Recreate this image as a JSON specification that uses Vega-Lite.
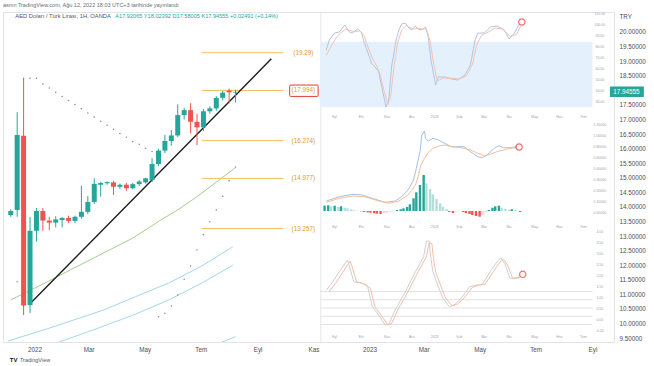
{
"$schema": "https://vega.github.io/schema/vega-lite/v6.json",
"width": 611, "height": 330, "autosize": "none",
"padding": {"left": 3, "top": 12, "right": 40, "bottom": 24},
"background": "#ffffff",
"title": {"text": "asmn TradingView.com, Ağu 12, 2022 18:03 UTC+3 tarihinde yayınlandı", "anchor": "start", "frame": "group", "fontSize": 5.5, "fontWeight": "normal", "color": "#6a6d78", "offset": 3, "font": "Liberation Sans"},
"config": {
  "font": "Liberation Sans",
  "view": {"stroke": "#e0e3eb", "strokeWidth": 1},
  "axis": {"grid": false, "ticks": false, "domain": false, "labelFontSize": 6.3, "labelColor": "#4b4e58", "labelFont": "Liberation Sans"}
},
"datasets": {
  "candles": [
    {"d":"2021-12-06","o":13.72,"h":13.92,"l":13.66,"c":13.86},
    {"d":"2021-12-13","o":13.89,"h":17.25,"l":13.66,"c":16.47},
    {"d":"2021-12-20","o":16.44,"h":18.41,"l":10.29,"c":10.62},
    {"d":"2021-12-27","o":10.63,"h":13.66,"l":10.36,"c":13.18},
    {"d":"2022-01-03","o":13.18,"h":13.96,"l":12.81,"c":13.86},
    {"d":"2022-01-10","o":13.86,"h":13.96,"l":13.18,"c":13.53},
    {"d":"2022-01-17","o":13.53,"h":13.66,"l":13.2,"c":13.46},
    {"d":"2022-01-24","o":13.46,"h":13.68,"l":13.3,"c":13.57},
    {"d":"2022-01-31","o":13.55,"h":13.65,"l":13.3,"c":13.62},
    {"d":"2022-02-07","o":13.62,"h":13.7,"l":13.45,"c":13.52},
    {"d":"2022-02-14","o":13.52,"h":13.7,"l":13.45,"c":13.66},
    {"d":"2022-02-21","o":13.66,"h":14.72,"l":13.6,"c":13.83},
    {"d":"2022-02-28","o":13.83,"h":14.37,"l":13.75,"c":14.17},
    {"d":"2022-03-07","o":14.17,"h":14.98,"l":14.1,"c":14.79},
    {"d":"2022-03-14","o":14.76,"h":14.86,"l":14.35,"c":14.82},
    {"d":"2022-03-21","o":14.81,"h":14.87,"l":14.76,"c":14.85},
    {"d":"2022-03-28","o":14.84,"h":14.9,"l":14.41,"c":14.69},
    {"d":"2022-04-04","o":14.69,"h":14.8,"l":14.62,"c":14.76},
    {"d":"2022-04-11","o":14.76,"h":14.82,"l":14.55,"c":14.64},
    {"d":"2022-04-18","o":14.64,"h":14.82,"l":14.6,"c":14.78},
    {"d":"2022-04-25","o":14.78,"h":14.92,"l":14.72,"c":14.87},
    {"d":"2022-05-02","o":14.84,"h":15.0,"l":14.8,"c":14.98},
    {"d":"2022-05-09","o":14.92,"h":15.67,"l":14.85,"c":15.47},
    {"d":"2022-05-16","o":15.47,"h":15.99,"l":15.4,"c":15.93},
    {"d":"2022-05-23","o":15.93,"h":16.47,"l":15.85,"c":16.26},
    {"d":"2022-05-30","o":16.26,"h":16.64,"l":16.1,"c":16.45},
    {"d":"2022-06-06","o":16.45,"h":17.52,"l":16.4,"c":17.15},
    {"d":"2022-06-13","o":17.15,"h":17.4,"l":17.0,"c":17.32},
    {"d":"2022-06-20","o":17.32,"h":17.56,"l":16.52,"c":16.92},
    {"d":"2022-06-27","o":16.92,"h":17.2,"l":16.12,"c":16.73},
    {"d":"2022-07-04","o":16.73,"h":17.35,"l":16.6,"c":17.28},
    {"d":"2022-07-11","o":17.28,"h":17.45,"l":17.2,"c":17.38},
    {"d":"2022-07-18","o":17.38,"h":17.8,"l":17.3,"c":17.74},
    {"d":"2022-07-25","o":17.74,"h":17.98,"l":17.65,"c":17.92},
    {"d":"2022-08-01","o":17.99,"h":18.06,"l":17.55,"c":17.93},
    {"d":"2022-08-08","o":17.92065,"h":18.02392,"l":17.58005,"c":17.94555}
  ],
  "sar": [
    {"d":"2021-12-13","v":11.43},{"d":"2021-12-20","v":18.41},{"d":"2021-12-27","v":18.41},{"d":"2022-01-03","v":18.41},
    {"d":"2022-01-10","v":18.22},{"d":"2022-01-17","v":18.08},{"d":"2022-01-24","v":17.93},{"d":"2022-01-31","v":17.79},
    {"d":"2022-02-07","v":17.65},{"d":"2022-02-14","v":17.51},{"d":"2022-02-21","v":17.37},{"d":"2022-02-28","v":17.22},
    {"d":"2022-03-07","v":17.08},{"d":"2022-03-14","v":16.94},{"d":"2022-03-21","v":16.8},{"d":"2022-03-28","v":16.66},
    {"d":"2022-04-04","v":16.52},{"d":"2022-04-11","v":16.39},{"d":"2022-04-18","v":16.24},{"d":"2022-04-25","v":16.15},
    {"d":"2022-05-02","v":16.01},{"d":"2022-05-09","v":15.9},
    {"d":"2022-05-16","v":10.23},{"d":"2022-05-23","v":10.35},{"d":"2022-05-30","v":10.6},{"d":"2022-06-06","v":10.98},
    {"d":"2022-06-13","v":11.52},{"d":"2022-06-20","v":11.97},{"d":"2022-06-27","v":12.52},{"d":"2022-07-04","v":13.05},
    {"d":"2022-07-11","v":13.49},{"d":"2022-07-18","v":13.89},{"d":"2022-07-25","v":14.36},{"d":"2022-08-01","v":14.9},
    {"d":"2022-08-08","v":15.37}
  ],
  "ma": [
    {"d":"2021-12-06","v":10.81,"s":"g"},{"d":"2022-01-10","v":11.35,"s":"g"},{"d":"2022-02-14","v":11.92,"s":"g"},
    {"d":"2022-03-21","v":12.48,"s":"g"},{"d":"2022-04-18","v":12.93,"s":"g"},{"d":"2022-05-16","v":13.5,"s":"g"},
    {"d":"2022-06-06","v":13.9,"s":"g"},{"d":"2022-06-27","v":14.35,"s":"g"},{"d":"2022-07-18","v":14.85,"s":"g"},
    {"d":"2022-08-08","v":15.35,"s":"g"},
    {"d":"2021-12-03","v":9.4,"s":"c1"},{"d":"2022-01-15","v":9.82,"s":"c1"},{"d":"2022-03-17","v":10.46,"s":"c1"},
    {"d":"2022-04-21","v":10.92,"s":"c1"},{"d":"2022-05-28","v":11.4,"s":"c1"},{"d":"2022-07-02","v":11.97,"s":"c1"},
    {"d":"2022-08-05","v":12.63,"s":"c1"},
    {"d":"2022-01-22","v":9.3,"s":"c2"},{"d":"2022-03-06","v":9.78,"s":"c2"},{"d":"2022-04-21","v":10.32,"s":"c2"},
    {"d":"2022-05-28","v":10.82,"s":"c2"},{"d":"2022-07-02","v":11.38,"s":"c2"},{"d":"2022-08-05","v":12.0,"s":"c2"},
    {"d":"2022-07-18","v":9.28,"s":"c3"},{"d":"2022-08-08","v":9.55,"s":"c3"}
  ],
  "trend": [{"d":"2021-12-28","v":10.71},{"d":"2022-09-16","v":19.08}],
  "levels": [
    {"d":"2022-07-02","d2":"2022-09-29","v":19.29,"t":"(19.29)"},
    {"d":"2022-07-02","d2":"2022-09-29","v":17.994,"t":"(17.994)"},
    {"d":"2022-07-02","d2":"2022-09-29","v":16.274,"t":"(16.274)"},
    {"d":"2022-07-02","d2":"2022-09-29","v":14.977,"t":"(14.977)"},
    {"d":"2022-07-02","d2":"2022-09-29","v":13.257,"t":"(13.257)"}
  ],
  "box": [{"d":"2022-10-06","d2":"2022-11-06","v":17.79,"v2":18.18}],
  "ptag": [{"d":"2023-09-20","d2":"2023-10-27","v":17.77,"v2":18.13}],
  "ptagText": [{"d":"2023-10-08","v":17.94555,"t":"17.94555"}],
  "hdr": [{"d":"2021-12-11","v":20.55,"t":"AED Doları / Türk Lirası, 1H, OANDA"}],
  "hdr2": [{"d":"2022-03-30","v":20.55,"t":"A17.92065 Y18.02392 D17.58005 K17.94555 +0.02491 (+0.14%)"}],
  "foot": [{"d":"2021-12-05","v":8.75,"t":"TV"}],
  "foot2": [{"d":"2021-12-16","v":8.75,"t":"TradingView"}],
  "border": [{"d":"2022-11-09","v":9.365,"v2":20.686}],
  "tiny": [
    {"d":"2022-11-24","v":17.084,"t":"Eyl"},{"d":"2022-12-23","v":17.084,"t":"Eki"},{"d":"2023-01-20","v":17.084,"t":"Kas"},
    {"d":"2023-02-16","v":17.084,"t":"Ara"},{"d":"2023-03-13","v":17.084,"t":"2023"},{"d":"2023-04-09","v":17.084,"t":"Şub"},
    {"d":"2023-05-06","v":17.084,"t":"Mar"},{"d":"2023-06-02","v":17.084,"t":"Nis"},{"d":"2023-06-30","v":17.084,"t":"May"},
    {"d":"2023-07-27","v":17.084,"t":"Haz"},{"d":"2023-08-22","v":17.084,"t":"Tem"},
    {"d":"2022-11-24","v":13.311,"t":"Eyl"},{"d":"2022-12-23","v":13.311,"t":"Eki"},{"d":"2023-01-20","v":13.311,"t":"Kas"},
    {"d":"2023-02-16","v":13.311,"t":"Ara"},{"d":"2023-03-13","v":13.311,"t":"2023"},{"d":"2023-04-09","v":13.311,"t":"Şub"},
    {"d":"2023-05-06","v":13.311,"t":"Mar"},{"d":"2023-06-02","v":13.311,"t":"Nis"},{"d":"2023-06-30","v":13.311,"t":"May"},
    {"d":"2023-07-27","v":13.311,"t":"Haz"},{"d":"2023-08-22","v":13.311,"t":"Tem"},
    {"d":"2022-11-24","v":9.537,"t":"Eyl"},{"d":"2022-12-23","v":9.537,"t":"Eki"},{"d":"2023-01-20","v":9.537,"t":"Kas"},
    {"d":"2023-02-16","v":9.537,"t":"Ara"},{"d":"2023-03-13","v":9.537,"t":"2023"},{"d":"2023-04-09","v":9.537,"t":"Şub"},
    {"d":"2023-05-06","v":9.537,"t":"Mar"},{"d":"2023-06-02","v":9.537,"t":"Nis"},{"d":"2023-06-30","v":9.537,"t":"May"},
    {"d":"2023-07-27","v":9.537,"t":"Haz"},{"d":"2023-08-22","v":9.537,"t":"Tem"},
    {"d":"2023-09-09","v":20.617,"t":"110.00"},{"d":"2023-09-09","v":20.24,"t":"100.00"},{"d":"2023-09-09","v":19.863,"t":"90.00"},
    {"d":"2023-09-09","v":19.485,"t":"80.00"},{"d":"2023-09-09","v":19.108,"t":"70.00"},{"d":"2023-09-09","v":18.731,"t":"60.00"},
    {"d":"2023-09-09","v":18.353,"t":"50.00"},{"d":"2023-09-09","v":17.976,"t":"40.00"},{"d":"2023-09-09","v":17.599,"t":"30.00"},
    {"d":"2023-09-09","v":16.81,"t":"1.20000"},{"d":"2023-09-09","v":16.432,"t":"1.00000"},{"d":"2023-09-09","v":16.055,"t":"0.80000"},
    {"d":"2023-09-09","v":15.678,"t":"0.60000"},{"d":"2023-09-09","v":15.3,"t":"0.40000"},{"d":"2023-09-09","v":14.923,"t":"0.30000"},
    {"d":"2023-09-09","v":14.545,"t":"0.20000"},{"d":"2023-09-09","v":14.168,"t":"0.10000"},{"d":"2023-09-09","v":13.791,"t":"0.00000"},
    {"d":"2023-09-09","v":13.139,"t":"4.00"},{"d":"2023-09-09","v":12.762,"t":"3.50"},{"d":"2023-09-09","v":12.384,"t":"3.00"},
    {"d":"2023-09-09","v":12.007,"t":"2.50"},{"d":"2023-09-09","v":11.63,"t":"2.00"},{"d":"2023-09-09","v":11.252,"t":"1.50"},
    {"d":"2023-09-09","v":10.875,"t":"1.00"},{"d":"2023-09-09","v":10.497,"t":"0.50"},{"d":"2023-09-09","v":10.12,"t":"0.00"},
    {"d":"2023-09-09","v":9.743,"t":"-0.50"}
  ],
  "bandA": [{"d":"2022-11-08","d2":"2023-09-01","v":3,"v2":75}],
  "stoch": [
    {"d":"2022-11-15","v":65.9,"s":"k"},{"d":"2022-11-18","v":76.9,"s":"k"},{"d":"2022-11-24","v":84.6,"s":"k"},
    {"d":"2022-11-29","v":85.7,"s":"k"},{"d":"2022-12-05","v":93.4,"s":"k"},{"d":"2022-12-10","v":85.7,"s":"k"},
    {"d":"2022-12-13","v":84.6,"s":"k"},{"d":"2022-12-19","v":89.0,"s":"k"},{"d":"2022-12-23","v":85.7,"s":"k"},
    {"d":"2022-12-26","v":74.7,"s":"k"},{"d":"2023-01-01","v":58.2,"s":"k"},{"d":"2023-01-03","v":51.6,"s":"k"},
    {"d":"2023-01-08","v":46.2,"s":"k"},{"d":"2023-01-11","v":41.8,"s":"k"},{"d":"2023-01-15","v":22.0,"s":"k"},
    {"d":"2023-01-19","v":3.3,"s":"k"},{"d":"2023-01-22","v":11.0,"s":"k"},{"d":"2023-01-25","v":47.3,"s":"k"},
    {"d":"2023-01-30","v":76.9,"s":"k"},{"d":"2023-02-02","v":87.9,"s":"k"},{"d":"2023-02-05","v":94.5,"s":"k"},
    {"d":"2023-02-09","v":95.6,"s":"k"},{"d":"2023-02-13","v":90.1,"s":"k"},{"d":"2023-02-16","v":87.9,"s":"k"},
    {"d":"2023-02-20","v":92.3,"s":"k"},{"d":"2023-02-23","v":89.0,"s":"k"},{"d":"2023-02-27","v":87.9,"s":"k"},
    {"d":"2023-03-03","v":91.2,"s":"k"},{"d":"2023-03-06","v":80.2,"s":"k"},{"d":"2023-03-09","v":54.9,"s":"k"},
    {"d":"2023-03-14","v":27.5,"s":"k"},{"d":"2023-03-17","v":36.3,"s":"k"},{"d":"2023-03-25","v":36.3,"s":"k"},
    {"d":"2023-03-31","v":34.1,"s":"k"},{"d":"2023-04-07","v":33.0,"s":"k"},{"d":"2023-04-15","v":38.5,"s":"k"},
    {"d":"2023-04-21","v":49.5,"s":"k"},{"d":"2023-04-26","v":76.9,"s":"k"},{"d":"2023-04-29","v":84.6,"s":"k"},
    {"d":"2023-05-06","v":84.6,"s":"k"},{"d":"2023-05-13","v":91.2,"s":"k"},{"d":"2023-05-20","v":92.3,"s":"k"},
    {"d":"2023-05-28","v":87.9,"s":"k"},{"d":"2023-06-02","v":78.0,"s":"k"},{"d":"2023-06-08","v":84.6,"s":"k"},
    {"d":"2023-06-13","v":94.5,"s":"k"},
    {"d":"2022-11-15","v":60,"s":"dd"},{"d":"2022-11-20","v":70,"s":"dd"},{"d":"2022-11-26","v":80,"s":"dd"},
    {"d":"2022-12-01","v":85,"s":"dd"},{"d":"2022-12-06","v":89,"s":"dd"},{"d":"2022-12-12","v":87,"s":"dd"},
    {"d":"2022-12-17","v":86,"s":"dd"},{"d":"2022-12-21","v":87,"s":"dd"},{"d":"2022-12-26","v":82,"s":"dd"},
    {"d":"2022-12-30","v":70,"s":"dd"},{"d":"2023-01-04","v":57,"s":"dd"},{"d":"2023-01-09","v":48,"s":"dd"},
    {"d":"2023-01-13","v":38,"s":"dd"},{"d":"2023-01-17","v":20,"s":"dd"},{"d":"2023-01-21","v":6,"s":"dd"},
    {"d":"2023-01-24","v":15,"s":"dd"},{"d":"2023-01-28","v":50,"s":"dd"},{"d":"2023-02-01","v":75,"s":"dd"},
    {"d":"2023-02-05","v":88,"s":"dd"},{"d":"2023-02-10","v":93,"s":"dd"},{"d":"2023-02-15","v":90,"s":"dd"},
    {"d":"2023-02-19","v":89,"s":"dd"},{"d":"2023-02-23","v":90,"s":"dd"},{"d":"2023-02-28","v":89,"s":"dd"},
    {"d":"2023-03-04","v":89,"s":"dd"},{"d":"2023-03-08","v":76,"s":"dd"},{"d":"2023-03-12","v":50,"s":"dd"},
    {"d":"2023-03-16","v":32,"s":"dd"},{"d":"2023-03-22","v":35,"s":"dd"},{"d":"2023-03-31","v":35,"s":"dd"},
    {"d":"2023-04-09","v":34,"s":"dd"},{"d":"2023-04-17","v":38,"s":"dd"},{"d":"2023-04-23","v":50,"s":"dd"},
    {"d":"2023-04-28","v":72,"s":"dd"},{"d":"2023-05-03","v":82,"s":"dd"},{"d":"2023-05-11","v":86,"s":"dd"},
    {"d":"2023-05-18","v":90,"s":"dd"},{"d":"2023-05-26","v":89,"s":"dd"},{"d":"2023-06-03","v":81,"s":"dd"},
    {"d":"2023-06-10","v":83,"s":"dd"},{"d":"2023-06-15","v":92,"s":"dd"}
  ],
  "circA": [{"d":"2023-06-16","v":96.7}],
  "macd": [
    {"d":"2022-11-15","v":0.10,"s":"macd"},{"d":"2022-11-29","v":0.143,"s":"macd"},{"d":"2022-12-14","v":0.167,"s":"macd"},
    {"d":"2022-12-24","v":0.16,"s":"macd"},{"d":"2023-01-04","v":0.127,"s":"macd"},{"d":"2023-01-18","v":0.087,"s":"macd"},
    {"d":"2023-01-29","v":0.10,"s":"macd"},{"d":"2023-02-05","v":0.143,"s":"macd"},{"d":"2023-02-12","v":0.21,"s":"macd"},
    {"d":"2023-02-18","v":0.31,"s":"macd"},{"d":"2023-02-21","v":0.427,"s":"macd"},{"d":"2023-02-25","v":0.593,"s":"macd"},
    {"d":"2023-02-27","v":0.76,"s":"macd"},{"d":"2023-03-02","v":0.80,"s":"macd"},{"d":"2023-03-03","v":0.727,"s":"macd"},
    {"d":"2023-03-06","v":0.70,"s":"macd"},{"d":"2023-03-11","v":0.727,"s":"macd"},{"d":"2023-03-17","v":0.71,"s":"macd"},
    {"d":"2023-03-24","v":0.677,"s":"macd"},{"d":"2023-03-31","v":0.643,"s":"macd"},{"d":"2023-04-07","v":0.643,"s":"macd"},
    {"d":"2023-04-14","v":0.643,"s":"macd"},{"d":"2023-04-21","v":0.593,"s":"macd"},{"d":"2023-04-29","v":0.543,"s":"macd"},
    {"d":"2023-05-04","v":0.533,"s":"macd"},{"d":"2023-05-09","v":0.56,"s":"macd"},{"d":"2023-05-17","v":0.627,"s":"macd"},
    {"d":"2023-05-22","v":0.653,"s":"macd"},{"d":"2023-05-27","v":0.633,"s":"macd"},{"d":"2023-06-03","v":0.633,"s":"macd"},
    {"d":"2023-06-11","v":0.643,"s":"macd"},
    {"d":"2022-11-15","v":0.087,"s":"sig"},{"d":"2022-11-29","v":0.127,"s":"sig"},{"d":"2022-12-14","v":0.15,"s":"sig"},
    {"d":"2022-12-28","v":0.14,"s":"sig"},{"d":"2023-01-11","v":0.10,"s":"sig"},{"d":"2023-01-22","v":0.077,"s":"sig"},
    {"d":"2023-02-02","v":0.10,"s":"sig"},{"d":"2023-02-12","v":0.16,"s":"sig"},{"d":"2023-02-20","v":0.26,"s":"sig"},
    {"d":"2023-02-23","v":0.343,"s":"sig"},{"d":"2023-02-26","v":0.46,"s":"sig"},{"d":"2023-03-02","v":0.527,"s":"sig"},
    {"d":"2023-03-06","v":0.587,"s":"sig"},{"d":"2023-03-11","v":0.627,"s":"sig"},{"d":"2023-03-19","v":0.653,"s":"sig"},
    {"d":"2023-03-24","v":0.66,"s":"sig"},{"d":"2023-03-31","v":0.643,"s":"sig"},{"d":"2023-04-11","v":0.633,"s":"sig"},
    {"d":"2023-04-21","v":0.61,"s":"sig"},{"d":"2023-04-29","v":0.577,"s":"sig"},{"d":"2023-05-06","v":0.553,"s":"sig"},
    {"d":"2023-05-13","v":0.567,"s":"sig"},{"d":"2023-05-20","v":0.593,"s":"sig"},{"d":"2023-05-27","v":0.61,"s":"sig"},
    {"d":"2023-06-03","v":0.627,"s":"sig"},{"d":"2023-06-11","v":0.633,"s":"sig"}
  ],
  "hist": [
    {"d":"2022-11-13","v":0.053,"s":"up"},{"d":"2022-11-17","v":0.057,"s":"up"},{"d":"2022-11-20","v":0.047,"s":"upf"},
    {"d":"2022-11-24","v":0.053,"s":"up"},{"d":"2022-11-28","v":0.04,"s":"upf"},{"d":"2022-12-01","v":0.047,"s":"up"},
    {"d":"2022-12-05","v":0.033,"s":"upf"},{"d":"2022-12-08","v":0.027,"s":"upf"},{"d":"2022-12-12","v":0.017,"s":"upf"},
    {"d":"2022-12-15","v":0.007,"s":"upf"},{"d":"2022-12-19","v":0.003,"s":"upf"},{"d":"2022-12-23","v":-0.003,"s":"dn"},
    {"d":"2022-12-26","v":-0.01,"s":"dn"},{"d":"2022-12-30","v":-0.013,"s":"dn"},{"d":"2023-01-02","v":-0.017,"s":"dn"},
    {"d":"2023-01-06","v":-0.023,"s":"dn"},{"d":"2023-01-09","v":-0.027,"s":"dn"},{"d":"2023-01-13","v":-0.03,"s":"dn"},
    {"d":"2023-01-17","v":-0.023,"s":"dnf"},{"d":"2023-01-20","v":-0.017,"s":"dnf"},{"d":"2023-01-24","v":-0.01,"s":"dnf"},
    {"d":"2023-01-27","v":-0.003,"s":"dnf"},{"d":"2023-01-31","v":0.01,"s":"up"},{"d":"2023-02-04","v":0.017,"s":"up"},
    {"d":"2023-02-07","v":0.027,"s":"up"},{"d":"2023-02-11","v":0.04,"s":"up"},{"d":"2023-02-14","v":0.067,"s":"up"},
    {"d":"2023-02-18","v":0.127,"s":"up"},{"d":"2023-02-21","v":0.187,"s":"up"},{"d":"2023-02-25","v":0.26,"s":"up"},
    {"d":"2023-03-01","v":0.36,"s":"up"},{"d":"2023-03-04","v":0.277,"s":"upf"},{"d":"2023-03-08","v":0.22,"s":"upf"},
    {"d":"2023-03-11","v":0.167,"s":"upf"},{"d":"2023-03-15","v":0.12,"s":"upf"},{"d":"2023-03-19","v":0.077,"s":"upf"},
    {"d":"2023-03-22","v":0.043,"s":"upf"},{"d":"2023-03-26","v":0.02,"s":"upf"},{"d":"2023-03-29","v":-0.01,"s":"dn"},
    {"d":"2023-04-02","v":-0.02,"s":"dn"},{"d":"2023-04-05","v":-0.005,"s":"dnf"},{"d":"2023-04-13","v":-0.01,"s":"dn"},
    {"d":"2023-04-16","v":-0.02,"s":"dn"},{"d":"2023-04-20","v":-0.03,"s":"dn"},{"d":"2023-04-23","v":-0.04,"s":"dn"},
    {"d":"2023-04-27","v":-0.05,"s":"dn"},{"d":"2023-05-01","v":-0.057,"s":"dn"},{"d":"2023-05-04","v":-0.04,"s":"dnf"},
    {"d":"2023-05-08","v":-0.013,"s":"dnf"},{"d":"2023-05-11","v":0.01,"s":"up"},{"d":"2023-05-15","v":0.033,"s":"up"},
    {"d":"2023-05-18","v":0.047,"s":"up"},{"d":"2023-05-22","v":0.053,"s":"up"},{"d":"2023-05-25","v":0.033,"s":"upf"},
    {"d":"2023-05-29","v":0.02,"s":"upf"},{"d":"2023-06-02","v":0.013,"s":"upf"},{"d":"2023-06-05","v":0.017,"s":"up"},
    {"d":"2023-06-09","v":0.013,"s":"upf"},{"d":"2023-06-14","v":-0.01,"s":"dn"}
  ],
  "circB": [{"d":"2023-06-13","v":0.64}],
  "gridC": [
    {"d":"2022-11-08","d2":"2023-09-01","v":1},{"d":"2022-11-08","d2":"2023-09-01","v":0.5},
    {"d":"2022-11-08","d2":"2023-09-01","v":0},{"d":"2022-11-08","d2":"2023-09-01","v":-0.5},
    {"d":"2022-11-08","d2":"2023-09-01","v":-1}
  ],
  "osc": [
    {"d":"2022-11-15","v":1.09,"s":"oa"},{"d":"2022-11-22","v":1.59,"s":"oa"},{"d":"2022-11-29","v":2.2,"s":"oa"},
    {"d":"2022-12-08","v":2.91,"s":"oa"},{"d":"2022-12-15","v":1.59,"s":"oa"},{"d":"2022-12-24","v":1.5,"s":"oa"},
    {"d":"2022-12-30","v":1.29,"s":"oa"},{"d":"2023-01-04","v":0.08,"s":"oa"},{"d":"2023-01-11","v":-0.42,"s":"oa"},
    {"d":"2023-01-18","v":-1.03,"s":"oa"},{"d":"2023-01-22","v":-0.99,"s":"oa"},{"d":"2023-01-29","v":-0.12,"s":"oa"},
    {"d":"2023-02-09","v":0.99,"s":"oa"},{"d":"2023-02-20","v":2.2,"s":"oa"},{"d":"2023-03-01","v":3.11,"s":"oa"},
    {"d":"2023-03-04","v":4.06,"s":"oa"},{"d":"2023-03-07","v":4.06,"s":"oa"},{"d":"2023-03-08","v":3.41,"s":"oa"},
    {"d":"2023-03-11","v":2.2,"s":"oa"},{"d":"2023-03-17","v":1.29,"s":"oa"},{"d":"2023-03-22","v":0.59,"s":"oa"},
    {"d":"2023-03-29","v":0.08,"s":"oa"},{"d":"2023-04-04","v":0.22,"s":"oa"},{"d":"2023-04-11","v":0.59,"s":"oa"},
    {"d":"2023-04-20","v":1.29,"s":"oa"},{"d":"2023-04-27","v":1.39,"s":"oa"},{"d":"2023-05-04","v":1.44,"s":"oa"},
    {"d":"2023-05-13","v":2.24,"s":"oa"},{"d":"2023-05-20","v":2.81,"s":"oa"},{"d":"2023-05-24","v":3.05,"s":"oa"},
    {"d":"2023-05-29","v":2.61,"s":"oa"},{"d":"2023-06-03","v":1.8,"s":"oa"},{"d":"2023-06-11","v":1.8,"s":"oa"},
    {"d":"2023-06-14","v":2.0,"s":"oa"},
    {"d":"2022-11-18","v":1.0,"s":"ob"},{"d":"2022-11-25","v":1.5,"s":"ob"},{"d":"2022-12-02","v":2.1,"s":"ob"},
    {"d":"2022-12-11","v":2.85,"s":"ob"},{"d":"2022-12-18","v":1.6,"s":"ob"},{"d":"2022-12-27","v":1.45,"s":"ob"},
    {"d":"2023-01-02","v":1.2,"s":"ob"},{"d":"2023-01-07","v":0.05,"s":"ob"},{"d":"2023-01-14","v":-0.45,"s":"ob"},
    {"d":"2023-01-21","v":-1.03,"s":"ob"},{"d":"2023-01-25","v":-0.95,"s":"ob"},{"d":"2023-02-01","v":-0.1,"s":"ob"},
    {"d":"2023-02-12","v":1.0,"s":"ob"},{"d":"2023-02-23","v":2.2,"s":"ob"},{"d":"2023-03-04","v":3.1,"s":"ob"},
    {"d":"2023-03-07","v":3.95,"s":"ob"},{"d":"2023-03-10","v":3.9,"s":"ob"},{"d":"2023-03-11","v":3.3,"s":"ob"},
    {"d":"2023-03-14","v":2.2,"s":"ob"},{"d":"2023-03-20","v":1.3,"s":"ob"},{"d":"2023-03-25","v":0.6,"s":"ob"},
    {"d":"2023-04-01","v":0.12,"s":"ob"},{"d":"2023-04-07","v":0.25,"s":"ob"},{"d":"2023-04-14","v":0.6,"s":"ob"},
    {"d":"2023-04-23","v":1.25,"s":"ob"},{"d":"2023-04-30","v":1.38,"s":"ob"},{"d":"2023-05-07","v":1.45,"s":"ob"},
    {"d":"2023-05-16","v":2.2,"s":"ob"},{"d":"2023-05-23","v":2.78,"s":"ob"},{"d":"2023-05-27","v":2.95,"s":"ob"},
    {"d":"2023-06-01","v":2.55,"s":"ob"},{"d":"2023-06-06","v":1.8,"s":"ob"},{"d":"2023-06-14","v":1.85,"s":"ob"}
  ],
  "circC": [{"d":"2023-06-17","v":2.04}],
  "axisY": [{"d":"2023-09-19","v":20.0}]
},
"encoding": {
  "x": {"field": "d", "type": "temporal",
    "scale": {"type": "utc", "nice": false, "domain": [{"year":2021,"month":12,"date":3,"utc":true},{"year":2023,"month":9,"date":19,"utc":true}]},
    "axis": {"title": null, "labelPadding": 4, "labelOverlap": false, "labelFlush": false, "labelBaseline": "top",
      "values": [{"year":2022,"month":1,"date":1,"utc":true},{"year":2022,"month":3,"date":1,"utc":true},{"year":2022,"month":5,"date":1,"utc":true},{"year":2022,"month":7,"date":1,"utc":true},{"year":2022,"month":9,"date":1,"utc":true},{"year":2022,"month":11,"date":1,"utc":true},{"year":2023,"month":1,"date":1,"utc":true},{"year":2023,"month":3,"date":1,"utc":true},{"year":2023,"month":5,"date":1,"utc":true},{"year":2023,"month":7,"date":1,"utc":true},{"year":2023,"month":9,"date":1,"utc":true}],
      "labelExpr": "utcmonth(datum.value) == 0 ? utcFormat(datum.value, '%Y') : ['Oca','Şub','Mar','Nis','May','Haz','Tem','Ağu','Eyl','Eki','Kas','Ara'][utcmonth(datum.value)]"}
  }
},
"layer": [
  {"data": {"name": "axisY"}, "mark": {"type": "point", "opacity": 0},
   "encoding": {"y": {"field": "v", "type": "quantitative", "scale": {"domain": [9.365, 20.686], "nice": false, "zero": false},
      "axis": {"title": "TRY", "titleAngle": 0, "titleAlign": "left", "titleBaseline": "middle", "titleX": 5, "titleY": 4, "titleFontSize": 6.3, "titleFontWeight": "normal", "titleColor": "#4b4e58", "titleFont": "Liberation Sans",
        "orient": "right", "labelPadding": 5, "labelOverlap": false, "labelFlush": false, "format": ".5f", "labelAlign": "left",
        "values": [9.5,10,10.5,11,11.5,12,12.5,13,13.5,14,14.5,15,15.5,16,16.5,17,17.5,18.5,19,19.5,20]}}}},
  {"data": {"name": "ma"}, "mark": {"type": "line", "strokeWidth": 1, "clip": true},
   "encoding": {"y": {"field": "v", "type": "quantitative", "scale": {"domain": [9.365, 20.686], "nice": false, "zero": false}, "axis": null},
     "color": {"field": "s", "type": "nominal", "legend": null, "scale": {"domain": ["g","c1","c2","c3","k","dd","macd","sig","oa","ob","up","upf","dn","dnf"], "range": ["#a3cf8f","#a4d7ea","#a4d7ea","#a4d7ea","#b3c3e6","#f3c3b0","#a9bde8","#f6c096","#d0d0d0","#f2bfa8","#26a69a","#b2dfdb","#ff5252","#ffcdd2"]}}}},
  {"data": {"name": "border"}, "mark": {"type": "rule", "color": "#e6e6e6", "strokeWidth": 1},
   "encoding": {"y": {"field": "v", "type": "quantitative", "scale": {"domain": [9.365, 20.686], "nice": false, "zero": false}, "axis": null}, "y2": {"field": "v2"}}},
  {"data": {"name": "levels"}, "mark": {"type": "rule", "color": "#f7bd62", "strokeWidth": 1},
   "encoding": {"y": {"field": "v", "type": "quantitative", "scale": {"domain": [9.365, 20.686], "nice": false, "zero": false}, "axis": null}, "x2": {"field": "d2"}}},
  {"data": {"name": "levels"}, "mark": {"type": "text", "color": "#e39a2a", "fontSize": 6.3, "align": "center", "baseline": "middle", "dx": 20},
   "encoding": {"x": {"field": "d2", "type": "temporal"}, "y": {"field": "v", "type": "quantitative", "scale": {"domain": [9.365, 20.686], "nice": false, "zero": false}, "axis": null}, "text": {"field": "t"}}},
  {"data": {"name": "box"}, "mark": {"type": "rect", "fillOpacity": 0, "stroke": "#e53935", "strokeWidth": 1, "cornerRadius": 1},
   "encoding": {"y": {"field": "v", "type": "quantitative", "scale": {"domain": [9.365, 20.686], "nice": false, "zero": false}, "axis": null}, "y2": {"field": "v2"}, "x2": {"field": "d2"}}},
  {"data": {"name": "trend"}, "mark": {"type": "line", "color": "#1c1c1c", "strokeWidth": 1.4},
   "encoding": {"y": {"field": "v", "type": "quantitative", "scale": {"domain": [9.365, 20.686], "nice": false, "zero": false}, "axis": null}}},
  {"data": {"name": "sar"}, "mark": {"type": "point", "filled": true, "size": 2.5, "color": "#8d8f96", "opacity": 1},
   "encoding": {"y": {"field": "v", "type": "quantitative", "scale": {"domain": [9.365, 20.686], "nice": false, "zero": false}, "axis": null}}},
  {"data": {"name": "candles"}, "mark": {"type": "rule", "strokeWidth": 1},
   "encoding": {"y": {"field": "l", "type": "quantitative", "scale": {"domain": [9.365, 20.686], "nice": false, "zero": false}, "axis": null}, "y2": {"field": "h"},
     "color": {"condition": {"test": "datum.c >= datum.o", "value": "#26a69a"}, "value": "#ef5350"}}},
  {"data": {"name": "candles"}, "mark": {"type": "bar", "size": 5},
   "encoding": {"y": {"field": "o", "type": "quantitative", "scale": {"domain": [9.365, 20.686], "nice": false, "zero": false}, "axis": null}, "y2": {"field": "c"},
     "color": {"condition": {"test": "datum.c >= datum.o", "value": "#26a69a"}, "value": "#ef5350"}}},
  {"data": {"name": "ptag"}, "mark": {"type": "rect", "color": "#26a69a"},
   "encoding": {"y": {"field": "v", "type": "quantitative", "scale": {"domain": [9.365, 20.686], "nice": false, "zero": false}, "axis": null}, "y2": {"field": "v2"}, "x2": {"field": "d2"}}},
  {"data": {"name": "ptagText"}, "mark": {"type": "text", "color": "#ffffff", "fontSize": 6.3, "align": "center", "baseline": "middle"},
   "encoding": {"y": {"field": "v", "type": "quantitative", "scale": {"domain": [9.365, 20.686], "nice": false, "zero": false}, "axis": null}, "text": {"field": "t"}}},
  {"data": {"name": "hdr"}, "mark": {"type": "text", "color": "#555861", "fontSize": 5.8, "align": "left", "baseline": "middle"},
   "encoding": {"y": {"field": "v", "type": "quantitative", "scale": {"domain": [9.365, 20.686], "nice": false, "zero": false}, "axis": null}, "text": {"field": "t"}}},
  {"data": {"name": "hdr2"}, "mark": {"type": "text", "color": "#26a69a", "fontSize": 5.6, "align": "left", "baseline": "middle"},
   "encoding": {"y": {"field": "v", "type": "quantitative", "scale": {"domain": [9.365, 20.686], "nice": false, "zero": false}, "axis": null}, "text": {"field": "t"}}},
  {"data": {"name": "foot"}, "mark": {"type": "text", "color": "#131722", "fontSize": 6, "fontWeight": "bold", "align": "left", "baseline": "middle"},
   "encoding": {"y": {"field": "v", "type": "quantitative", "scale": {"domain": [9.365, 20.686], "nice": false, "zero": false}, "axis": null}, "text": {"field": "t"}}},
  {"data": {"name": "foot2"}, "mark": {"type": "text", "color": "#555861", "fontSize": 5.5, "align": "left", "baseline": "middle"},
   "encoding": {"y": {"field": "v", "type": "quantitative", "scale": {"domain": [9.365, 20.686], "nice": false, "zero": false}, "axis": null}, "text": {"field": "t"}}},
  {"data": {"name": "tiny"}, "mark": {"type": "text", "color": "#a0a3ab", "fontSize": 3.5, "align": "center", "baseline": "middle"},
   "encoding": {"y": {"field": "v", "type": "quantitative", "scale": {"domain": [9.365, 20.686], "nice": false, "zero": false}, "axis": null}, "text": {"field": "t"}}},
  {
    "layer": [
      {"data": {"name": "bandA"}, "mark": {"type": "rect", "color": "#e4f1fc"},
       "encoding": {"y": {"field": "v", "type": "quantitative", "scale": {"domain": [-254.9, 107.7], "nice": false, "zero": false}, "axis": null}, "y2": {"field": "v2"}, "x2": {"field": "d2"}}},
      {"data": {"name": "stoch"}, "mark": {"type": "line", "strokeWidth": 1},
       "encoding": {"y": {"field": "v", "type": "quantitative", "scale": {"domain": [-254.9, 107.7], "nice": false, "zero": false}, "axis": null},
         "color": {"field": "s", "type": "nominal", "legend": null, "scale": {"domain": ["g","c1","c2","c3","k","dd","macd","sig","oa","ob","up","upf","dn","dnf"], "range": ["#a3cf8f","#a4d7ea","#a4d7ea","#a4d7ea","#b3c3e6","#f3c3b0","#a9bde8","#f6c096","#d0d0d0","#f2bfa8","#26a69a","#b2dfdb","#ff5252","#ffcdd2"]}}}},
      {"data": {"name": "circA"}, "mark": {"type": "point", "shape": "circle", "filled": false, "size": 40, "stroke": "#e53935", "strokeWidth": 1.2},
       "encoding": {"y": {"field": "v", "type": "quantitative", "scale": {"domain": [-254.9, 107.7], "nice": false, "zero": false}, "axis": null}}}
    ]
  },
  {
    "layer": [
      {"data": {"name": "hist"}, "mark": {"type": "bar", "size": 2.4},
       "encoding": {"y": {"field": "v", "type": "quantitative", "scale": {"domain": [-1.31, 1.99], "nice": false, "zero": false}, "axis": null}, "y2": {"datum": 0},
         "color": {"field": "s", "type": "nominal", "legend": null, "scale": {"domain": ["g","c1","c2","c3","k","dd","macd","sig","oa","ob","up","upf","dn","dnf"], "range": ["#a3cf8f","#a4d7ea","#a4d7ea","#a4d7ea","#b3c3e6","#f3c3b0","#a9bde8","#f6c096","#d0d0d0","#f2bfa8","#26a69a","#b2dfdb","#ff5252","#ffcdd2"]}}}},
      {"data": {"name": "macd"}, "mark": {"type": "line", "strokeWidth": 1},
       "encoding": {"y": {"field": "v", "type": "quantitative", "scale": {"domain": [-1.31, 1.99], "nice": false, "zero": false}, "axis": null},
         "color": {"field": "s", "type": "nominal", "legend": null, "scale": {"domain": ["g","c1","c2","c3","k","dd","macd","sig","oa","ob","up","upf","dn","dnf"], "range": ["#a3cf8f","#a4d7ea","#a4d7ea","#a4d7ea","#b3c3e6","#f3c3b0","#a9bde8","#f6c096","#d0d0d0","#f2bfa8","#26a69a","#b2dfdb","#ff5252","#ffcdd2"]}}}},
      {"data": {"name": "circB"}, "mark": {"type": "point", "shape": "circle", "filled": false, "size": 40, "stroke": "#e53935", "strokeWidth": 1.2},
       "encoding": {"y": {"field": "v", "type": "quantitative", "scale": {"domain": [-1.31, 1.99], "nice": false, "zero": false}, "axis": null}}}
    ]
  },
  {
    "layer": [
      {"data": {"name": "gridC"}, "mark": {"type": "rule", "color": "#e3e3e3", "strokeWidth": 1},
       "encoding": {"y": {"field": "v", "type": "quantitative", "scale": {"domain": [-2.06, 17.94], "nice": false, "zero": false}, "axis": null}, "x2": {"field": "d2"}}},
      {"data": {"name": "osc"}, "mark": {"type": "line", "strokeWidth": 1},
       "encoding": {"y": {"field": "v", "type": "quantitative", "scale": {"domain": [-2.06, 17.94], "nice": false, "zero": false}, "axis": null},
         "color": {"field": "s", "type": "nominal", "legend": null, "scale": {"domain": ["g","c1","c2","c3","k","dd","macd","sig","oa","ob","up","upf","dn","dnf"], "range": ["#a3cf8f","#a4d7ea","#a4d7ea","#a4d7ea","#b3c3e6","#f3c3b0","#a9bde8","#f6c096","#d0d0d0","#f2bfa8","#26a69a","#b2dfdb","#ff5252","#ffcdd2"]}}}},
      {"data": {"name": "circC"}, "mark": {"type": "point", "shape": "circle", "filled": false, "size": 40, "stroke": "#e53935", "strokeWidth": 1.2},
       "encoding": {"y": {"field": "v", "type": "quantitative", "scale": {"domain": [-2.06, 17.94], "nice": false, "zero": false}, "axis": null}}}
    ]
  }
],
"resolve": {"scale": {"y": "independent"}}
}
